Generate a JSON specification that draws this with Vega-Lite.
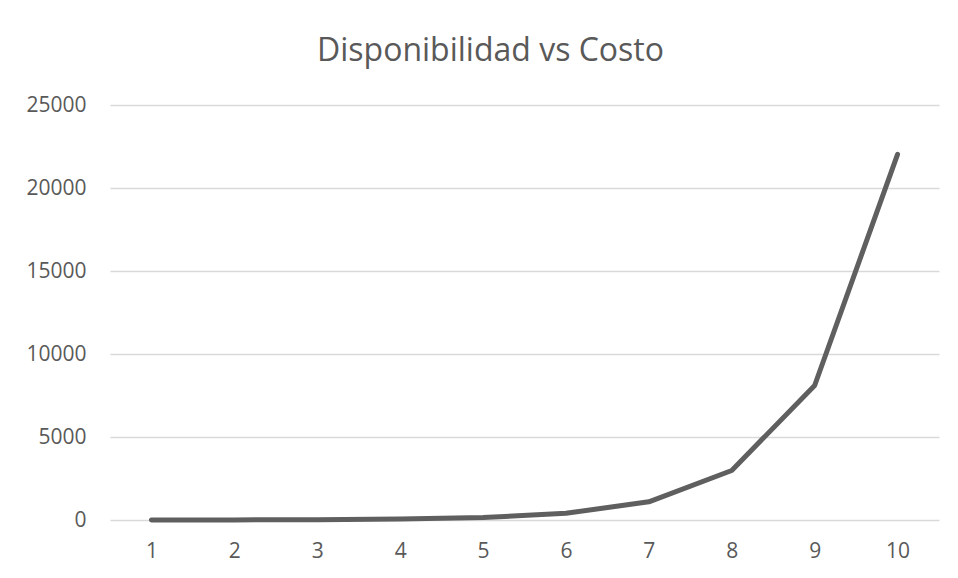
{
  "$schema": "https://vega.github.io/schema/vega-lite/v6.json",
  "autosize": "none",
  "width": 829,
  "height": 415,
  "padding": {"left": 110, "top": 105, "right": 19, "bottom": 58},
  "background": "white",
  "title": {
    "text": "Disponibilidad vs Costo",
    "font": "Open Sans",
    "fontSize": 32,
    "fontWeight": "normal",
    "color": "#595959",
    "anchor": "middle",
    "frame": "group",
    "dx": -34,
    "baseline": "alphabetic",
    "offset": 1
  },
  "data": {
    "values": [
      {"n": 1, "costo": 2.72},
      {"n": 2, "costo": 7.39},
      {"n": 3, "costo": 20.09},
      {"n": 4, "costo": 54.6},
      {"n": 5, "costo": 148.4},
      {"n": 6, "costo": 403.4},
      {"n": 7, "costo": 1096.6},
      {"n": 8, "costo": 2981},
      {"n": 9, "costo": 8103},
      {"n": 10, "costo": 22026}
    ]
  },
  "mark": {"type": "line", "color": "#5f5f5f", "strokeWidth": 5, "strokeCap": "round", "strokeJoin": "round"},
  "encoding": {
    "x": {
      "field": "n",
      "type": "ordinal",
      "scale": {"type": "point", "padding": 0.5},
      "axis": {
        "title": null,
        "labelAngle": 0,
        "labelFont": "Open Sans",
        "labelFontSize": 21,
        "labelColor": "#595959",
        "ticks": false,
        "domain": false,
        "grid": false,
        "labelPadding": 20
      }
    },
    "y": {
      "field": "costo",
      "type": "quantitative",
      "scale": {"domain": [0, 25000], "nice": false},
      "axis": {
        "title": null,
        "values": [0, 5000, 10000, 15000, 20000, 25000],
        "format": "d",
        "labelFont": "Open Sans",
        "labelFontSize": 21,
        "labelColor": "#595959",
        "ticks": false,
        "domain": false,
        "grid": true,
        "gridColor": "#d9d9d9",
        "gridWidth": 1.5,
        "labelPadding": 24
      }
    }
  },
  "config": {"view": {"stroke": null}}
}
